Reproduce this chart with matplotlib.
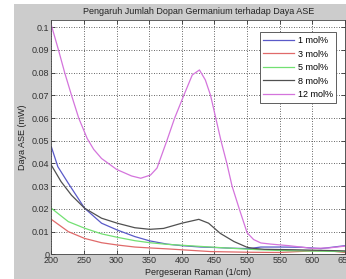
import matplotlib
matplotlib.use("Agg")
import matplotlib.pyplot as plt
from matplotlib.patches import Rectangle
from matplotlib.ticker import FixedLocator, FixedFormatter

plt.rcParams["font.family"] = ["Liberation Sans", "DejaVu Sans"]

# Data
x_1 = [200, 210, 226, 251, 277, 301, 328, 351, 377, 400, 429, 450, 475, 503, 521, 550, 583, 613, 650]
y_1 = [0.0474, 0.0386, 0.0313, 0.0203, 0.0137, 0.0107, 0.0078, 0.0059, 0.0045, 0.0038, 0.0032, 0.0030,
       0.0027, 0.0025, 0.0032, 0.0032, 0.0031, 0.0025, 0.0038]

x_3 = [200, 226, 251, 277, 301, 328, 351, 377, 444, 503, 550, 600, 630, 650]
y_3 = [0.0154, 0.0100, 0.0070, 0.0051, 0.0041, 0.0032, 0.0028, 0.0024, 0.0012, 0.0009, 0.0008, 0.0015,
       0.0014, 0.0008]

x_5 = [200, 226, 251, 277, 301, 328, 351, 377, 444, 503, 547, 600, 650]
y_5 = [0.0203, 0.0144, 0.0115, 0.0090, 0.0075, 0.0060, 0.0051, 0.0044, 0.0032, 0.0022, 0.0017, 0.0014, 0.0012]

x_8 = [200, 215, 231, 251, 277, 301, 328, 351, 372, 400, 426, 441, 459, 480, 500, 510, 526, 572, 650]
y_8 = [0.0393, 0.0320, 0.0260, 0.0203, 0.0159, 0.0137, 0.0117, 0.0110, 0.0114, 0.0137, 0.0154, 0.0137,
       0.0092, 0.0056, 0.0031, 0.0026, 0.0022, 0.0020, 0.0015]

x_12 = [200, 211, 220.5, 231, 242, 255, 265, 277, 300, 323, 337, 352, 362, 377, 389, 403, 416, 427,
        436, 444, 452, 460, 469, 477, 488, 500, 510, 521, 536, 564, 600, 625, 650]
y_12 = [0.101, 0.090, 0.080, 0.070, 0.060, 0.051, 0.0462, 0.0422, 0.0374, 0.0345, 0.0335, 0.0349, 0.038,
        0.050, 0.060, 0.070, 0.079, 0.0812, 0.0768, 0.070, 0.060, 0.050, 0.040, 0.030, 0.020, 0.0095,
        0.0065, 0.0050, 0.0045, 0.0038, 0.0026, 0.0028, 0.0036]

labels = ["1 mol%", "3 mol%", "5 mol%", "8 mol%", "12 mol%"]
colors = ["#5a5ac8", "#e06a6a", "#72e072", "#505050", "#d474dc"]

x_ticks = [200, 250, 300, 350, 400, 450, 500, 550, 600, 650]
y_ticks = [0, 0.01, 0.02, 0.03, 0.04, 0.05, 0.06, 0.07, 0.08, 0.09, 0.1]
y_ticklabels = ["0", "0.01", "0.02", "0.03", "0.04", "0.05", "0.06", "0.07", "0.08", "0.09", "0.1"]

W, H = 346, 279
fig = plt.figure(figsize=(W / 100, H / 100), dpi=100, facecolor="white")
fig.patches.append(Rectangle((14 / W, 0), 1 - 14 / W, 1 - 4 / H, transform=fig.transFigure,
                             facecolor="#cccccc", edgecolor="none", zorder=-10))

ax = fig.add_axes([51.3 / W, 1 - 254.3 / H, (345 - 51.3) / W, (254.3 - 20) / H])
ax.set_facecolor("white")

series = [(x_1, y_1), (x_3, y_3), (x_5, y_5), (x_8, y_8), (x_12, y_12)]
for (xs, ys), lab, col in zip(series, labels, colors):
    ax.plot(xs, ys, color=col, lw=0.9, label=lab)

ax.set_xlim(200, 650)
ax.set_ylim(0, 0.1032)
ax.xaxis.set_major_locator(FixedLocator(x_ticks))
ax.yaxis.set_major_locator(FixedLocator(y_ticks))
ax.yaxis.set_major_formatter(FixedFormatter(y_ticklabels))
ax.tick_params(direction="in", labelsize=6.5, length=3, width=0.6, pad=1.5, colors="#333333",
               top=True, right=True)
ax.grid(True, color="#333333", linestyle=(0, (1, 2)), lw=0.6)
for s in ax.spines.values():
    s.set_linewidth(0.6)
    s.set_color("#444444")

ax.set_title("Pengaruh Jumlah Dopan Germanium terhadap Daya ASE", fontsize=6.5, color="#222222", pad=4)
ax.set_xlabel("Pergeseran Raman (1/cm)", fontsize=6.5, color="#222222", labelpad=2)
ax.set_ylabel("Daya ASE (mW)", fontsize=6.5, color="#222222", labelpad=3)

leg = ax.legend(loc="upper right", fontsize=6.5, handlelength=3.4, handletextpad=0.4,
                borderpad=0.4, labelspacing=0.5, fancybox=False, framealpha=1,
                bbox_to_anchor=(0.986, 0.966))
leg.get_frame().set_edgecolor("#444444")
leg.get_frame().set_linewidth(0.6)

fig.savefig("out.png", dpi=100)
